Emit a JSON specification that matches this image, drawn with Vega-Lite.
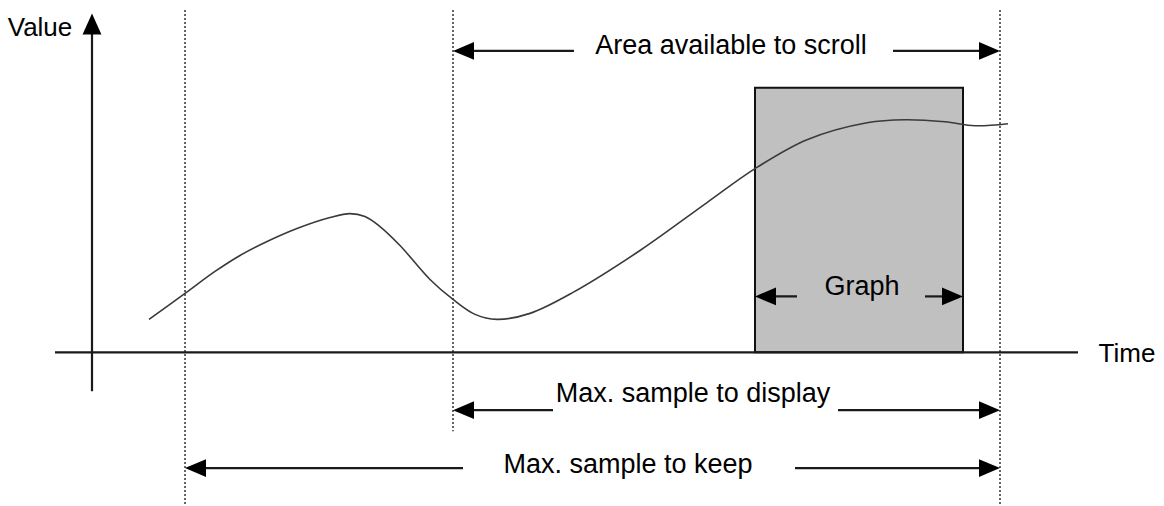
{
  "$schema": "https://vega.github.io/schema/vega-lite/v6.json",
  "width": 1164,
  "height": 506,
  "autosize": {"type": "fit", "contains": "padding"},
  "padding": 0,
  "background": "white",
  "config": {"view": {"stroke": null}},
  "datasets": {
    "box": [{"x": 755, "x2": 963, "y": 88, "y2": 353}],
    "solid": [
      {"x": 55, "x2": 1078, "y": 353, "y2": 353},
      {"x": 92, "x2": 92, "y": 392, "y2": 30},
      {"x": 460, "x2": 574, "y": 51, "y2": 51},
      {"x": 893, "x2": 992, "y": 51, "y2": 51},
      {"x": 762, "x2": 797, "y": 297, "y2": 297},
      {"x": 925, "x2": 956, "y": 297, "y2": 297},
      {"x": 460, "x2": 553, "y": 411, "y2": 411},
      {"x": 838, "x2": 992, "y": 411, "y2": 411},
      {"x": 192, "x2": 463, "y": 469, "y2": 469},
      {"x": 795, "x2": 992, "y": 469, "y2": 469}
    ],
    "dotted": [
      {"x": 185, "x2": 185, "y": 10, "y2": 506},
      {"x": 453, "x2": 453, "y": 10, "y2": 432},
      {"x": 1000, "x2": 1000, "y": 10, "y2": 506}
    ],
    "curve": [
      {"t": 149, "v": 320},
      {"t": 185, "v": 294},
      {"t": 215, "v": 272},
      {"t": 240, "v": 256},
      {"t": 265, "v": 243},
      {"t": 297, "v": 229},
      {"t": 330, "v": 218},
      {"t": 350, "v": 214},
      {"t": 365, "v": 217},
      {"t": 380, "v": 227},
      {"t": 400, "v": 246},
      {"t": 430, "v": 280},
      {"t": 453, "v": 300},
      {"t": 475, "v": 315},
      {"t": 497, "v": 320},
      {"t": 530, "v": 314},
      {"t": 573, "v": 293},
      {"t": 640, "v": 251},
      {"t": 707, "v": 203},
      {"t": 755, "v": 169},
      {"t": 807, "v": 140},
      {"t": 867, "v": 123},
      {"t": 905, "v": 120},
      {"t": 945, "v": 122},
      {"t": 975, "v": 126},
      {"t": 1008, "v": 124}
    ],
    "heads": [
      {"x": 92, "y": 24, "shape": "M-0.9,1L0,-1L0.9,1Z"},
      {"x": 463.5, "y": 51, "shape": "M1,-0.85L-1,0L1,0.85Z"},
      {"x": 989.5, "y": 51, "shape": "M-1,-0.85L1,0L-1,0.85Z"},
      {"x": 765.5, "y": 297, "shape": "M1,-0.85L-1,0L1,0.85Z"},
      {"x": 952.5, "y": 297, "shape": "M-1,-0.85L1,0L-1,0.85Z"},
      {"x": 463.5, "y": 411, "shape": "M1,-0.85L-1,0L1,0.85Z"},
      {"x": 989.5, "y": 411, "shape": "M-1,-0.85L1,0L-1,0.85Z"},
      {"x": 195.5, "y": 469, "shape": "M1,-0.85L-1,0L1,0.85Z"},
      {"x": 989.5, "y": 469, "shape": "M-1,-0.85L1,0L-1,0.85Z"}
    ],
    "axislabels": [
      {"x": 40, "y": 28, "label": "Value"},
      {"x": 1127, "y": 355, "label": "Time"}
    ],
    "labels": [
      {"x": 731, "y": 46, "label": "Area available to scroll"},
      {"x": 862, "y": 288, "label": "Graph"},
      {"x": 693, "y": 395, "label": "Max. sample to display"},
      {"x": 628, "y": 466, "label": "Max. sample to keep"}
    ]
  },
  "layer": [
    {
      "data": {"name": "box"},
      "mark": {"type": "rect", "fill": "#c0c0c0", "stroke": "#111", "strokeWidth": 2},
      "encoding": {
        "x": {"field": "x", "type": "quantitative", "scale": {"domain": [0, 1164], "nice": false, "zero": false}, "axis": null},
        "x2": {"field": "x2"},
        "y": {"field": "y", "type": "quantitative", "scale": {"domain": [0, 506], "reverse": true, "nice": false, "zero": false}, "axis": null},
        "y2": {"field": "y2"}
      }
    },
    {
      "data": {"name": "dotted"},
      "mark": {"type": "rule", "stroke": "#333", "strokeWidth": 1.5, "strokeDash": [2, 2]},
      "encoding": {
        "x": {"field": "x", "type": "quantitative"},
        "x2": {"field": "x2"},
        "y": {"field": "y", "type": "quantitative"},
        "y2": {"field": "y2"}
      }
    },
    {
      "data": {"name": "solid"},
      "mark": {"type": "rule", "stroke": "#1a1a1a", "strokeWidth": 2.2},
      "encoding": {
        "x": {"field": "x", "type": "quantitative"},
        "x2": {"field": "x2"},
        "y": {"field": "y", "type": "quantitative"},
        "y2": {"field": "y2"}
      }
    },
    {
      "data": {"name": "curve"},
      "mark": {"type": "line", "stroke": "#3a3a3a", "strokeWidth": 1.6, "interpolate": "catmull-rom"},
      "encoding": {
        "x": {"field": "t", "type": "quantitative"},
        "y": {"field": "v", "type": "quantitative"}
      }
    },
    {
      "data": {"name": "heads"},
      "mark": {"type": "point", "filled": true, "color": "black", "opacity": 1, "size": 441},
      "encoding": {
        "x": {"field": "x", "type": "quantitative"},
        "y": {"field": "y", "type": "quantitative"},
        "shape": {"field": "shape", "type": "nominal", "scale": null}
      }
    },
    {
      "data": {"name": "axislabels"},
      "mark": {"type": "text", "font": "Liberation Sans", "fontSize": 26, "color": "black", "align": "center", "baseline": "middle"},
      "encoding": {
        "x": {"field": "x", "type": "quantitative"},
        "y": {"field": "y", "type": "quantitative"},
        "text": {"field": "label", "type": "nominal"}
      }
    },
    {
      "data": {"name": "labels"},
      "mark": {"type": "text", "font": "Liberation Sans", "fontSize": 27, "color": "black", "align": "center", "baseline": "middle"},
      "encoding": {
        "x": {"field": "x", "type": "quantitative"},
        "y": {"field": "y", "type": "quantitative"},
        "text": {"field": "label", "type": "nominal"}
      }
    }
  ]
}
